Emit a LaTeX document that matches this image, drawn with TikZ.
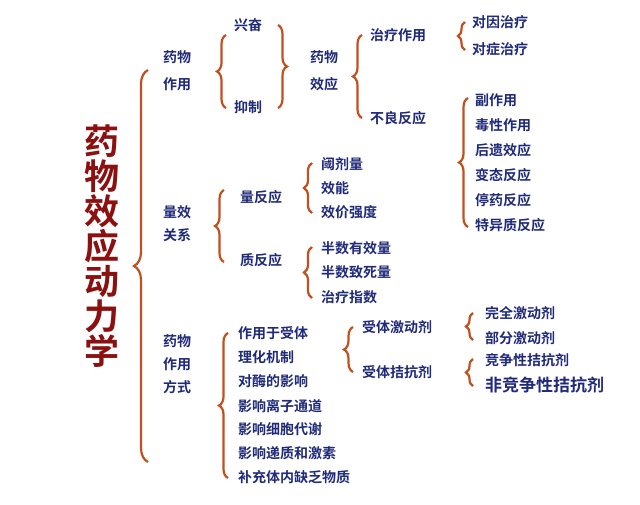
\documentclass[tikz,border=0pt]{standalone}
\usepackage{fontspec}
\setmainfont{Noto Sans CJK SC}[BoldFont={Noto Sans CJK SC Bold}]
\usetikzlibrary{decorations.pathreplacing}
\definecolor{txt}{HTML}{1F2A78}
\definecolor{brc}{HTML}{C0501F}
\definecolor{ttl}{HTML}{8B1010}
\tikzset{
 t/.style={anchor=west,text=txt,font=\fontsize{14}{27}\selectfont\bfseries,inner sep=0pt},
 t2/.style={t,font=\fontsize{14}{23}\selectfont\bfseries},
 tb/.style={t,font=\fontsize{17}{20}\selectfont\bfseries},
 br/.style={draw=brc,line width=2.2pt,decorate,decoration={brace,amplitude=#1,aspect=0.5}},
 br/.default=9
}
\begin{document}
\begin{tikzpicture}[x=1pt,y=-1pt]
\useasboundingbox (0,0) rectangle (640,504);
\node[text=ttl,font=\fontsize{35}{35}\selectfont\bfseries,align=center,inner sep=0pt] (title) at (102,246) {药\\物\\效\\应\\动\\力\\学};
\draw[br=14] (148,462) -- (148,70);
% top section
\node[t,align=left] (yw) at (163,71) {药物\\作用};
\draw[br] (226,108) -- (226,35);
\node[t] (xf) at (234,25) {兴奋};
\node[t] (yz) at (234,107) {抑制};
\draw[br] (278,25) -- (278,108);
\node[t,align=left] (yx) at (310,71) {药物\\效应};
\draw[br] (362,118) -- (362,35);
\node[t] (zl) at (370,35) {治疗作用};
\node[t] (bl) at (370,118) {不良反应};
\draw[br=7] (465,50) -- (465,22);
\node[t] (dy) at (472,22) {对因治疗};
\node[t] (dz) at (472,49) {对症治疗};
\draw[br] (468,227) -- (468,98);
\node[t] (f1) at (475,100) {副作用};
\node[t] (f2) at (475,125) {毒性作用};
\node[t] (f3) at (475,150) {后遗效应};
\node[t] (f4) at (475,175) {变态反应};
\node[t] (f5) at (475,200) {停药反应};
\node[t] (f6) at (475,225) {特异质反应};
% middle section
\node[t2,align=left] (lx) at (163,224) {量效\\关系};
\draw[br] (224,262) -- (224,190);
\node[t] (lf) at (240,197) {量反应};
\draw[br=8] (312,213) -- (312,163);
\node[t] (a1) at (321,164) {阈剂量};
\node[t] (a2) at (321,188) {效能};
\node[t] (a3) at (321,212) {效价强度};
\node[t] (zf) at (240,260) {质反应};
\draw[br=8] (312,298) -- (312,247);
\node[t] (b1) at (321,248) {半数有效量};
\node[t] (b2) at (321,272) {半数致死量};
\node[t] (b3) at (321,297) {治疗指数};
% bottom section
\node[t2,align=left] (fs) at (163,364) {药物\\作用\\方式};
\draw[br] (228,478) -- (228,333);
\node[t] (c1) at (238,333) {作用于受体};
\node[t] (c2) at (238,357) {理化机制};
\node[t] (c3) at (238,381) {对酶的影响};
\node[t] (c4) at (238,406) {影响离子通道};
\node[t] (c5) at (238,429) {影响细胞代谢};
\node[t] (c6) at (238,453) {影响递质和激素};
\node[t] (c7) at (238,477) {补充体内缺乏物质};
\draw[br=9] (353,372) -- (353,327);
\node[t] (jd) at (362,327) {受体激动剂};
\node[t] (jk) at (362,372) {受体拮抗剂};
\draw[br=7] (473,340) -- (473,313);
\node[t] (d1) at (485,313) {完全激动剂};
\node[t] (d2) at (485,338) {部分激动剂};
\draw[br=7] (473,386) -- (473,359);
\node[t] (e1) at (485,360) {竞争性拮抗剂};
\node[tb] (e2) at (485,385) {非竞争性拮抗剂};
\end{tikzpicture}
\end{document}
